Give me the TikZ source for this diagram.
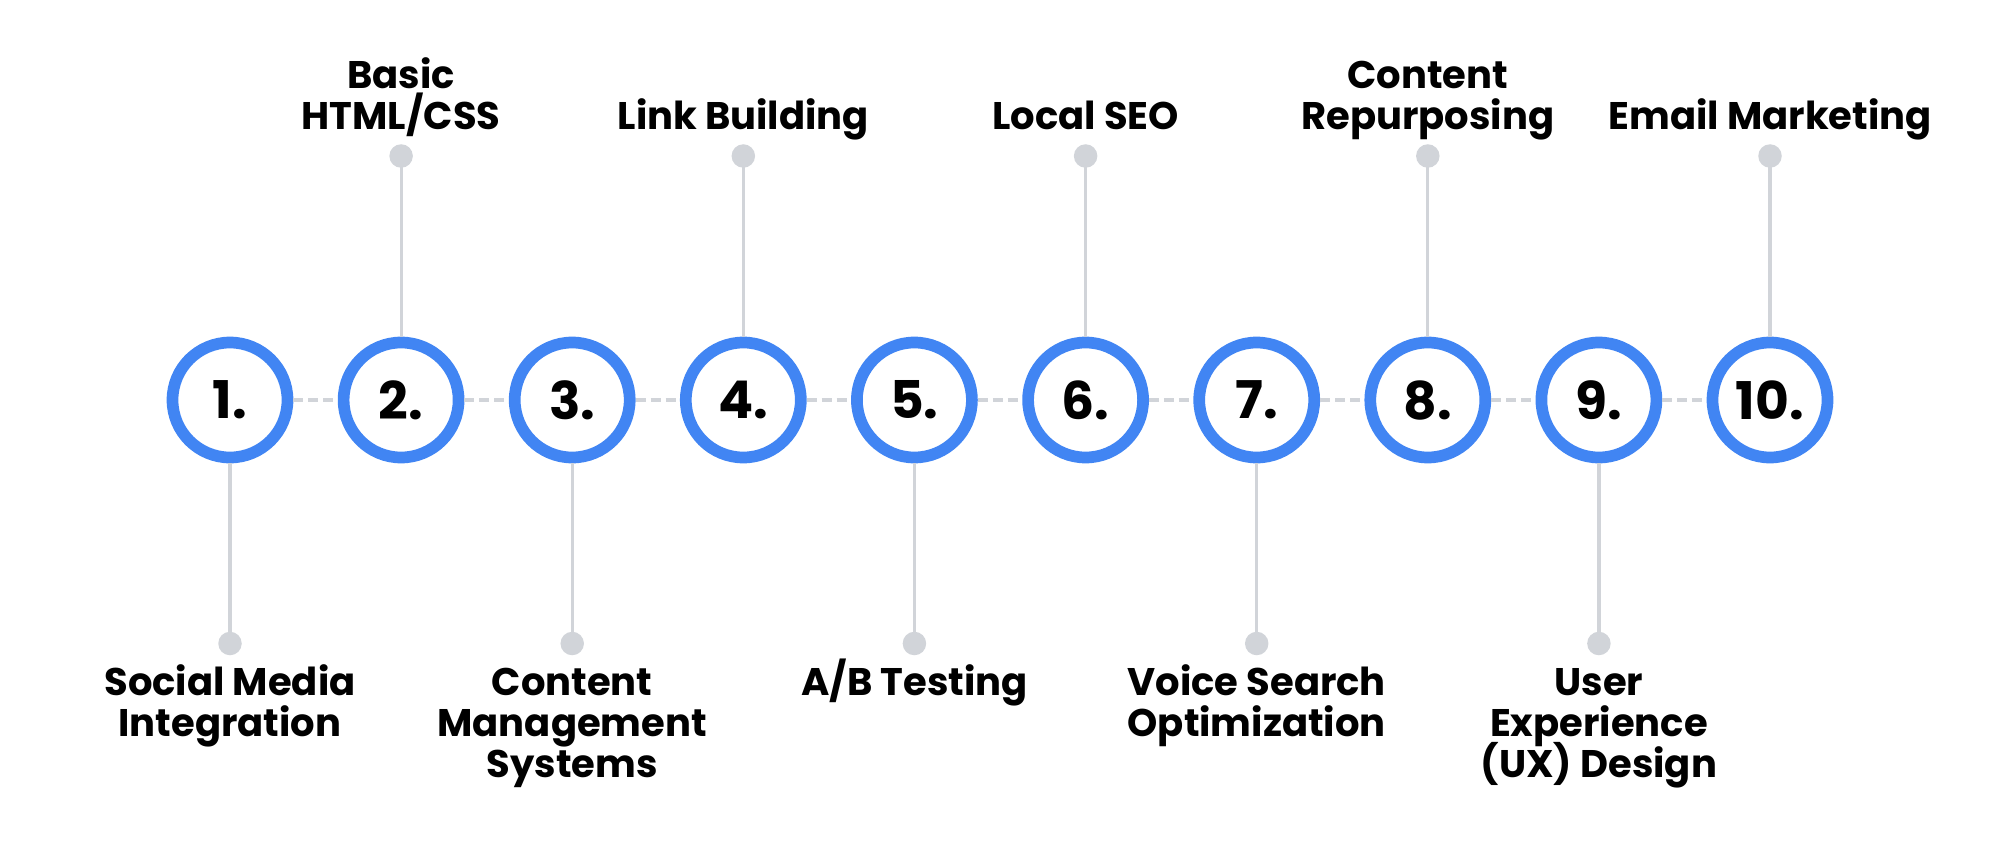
\documentclass[tikz,border=0pt]{standalone}
\usepackage{fontspec}
\setmainfont{Poppins}[BoldFont={* Bold}]
\definecolor{ringblue}{HTML}{4185F3}
\definecolor{lgrey}{HTML}{D1D4D9}
\newcommand\mylblfont{\fontsize{38.5}{41}\selectfont\bfseries\lineskiplimit=-100pt\relax\lineskip=0pt\relax}
\tikzset{
  stepcircle/.style={circle, draw=ringblue, line width=11.7pt, minimum size=115pt, inner sep=0pt, fill=white,
    font=\fontsize{52}{52}\selectfont\bfseries},
  dashlink/.style={draw=lgrey, line width=4pt, dash pattern=on 10pt off 5pt},
  stem/.style={draw=lgrey, line width=3.2pt},
  enddot/.style={circle, fill=lgrey, minimum size=23.5pt, inner sep=0pt},
  lbl/.style={align=center, inner sep=0pt, anchor=base, font=\mylblfont}
}
\begin{document}
\begin{tikzpicture}[x=1pt,y=-1pt]
\useasboundingbox (0,0) rectangle (2000,848);
% circles
\foreach \i/\x in {1/230,2/401.1,3/572.2,4/743.3,5/914.4,6/1085.6,7/1256.7,8/1427.8,9/1598.9,10/1770}{
  \node[stepcircle] (c\i) at (\x,400) {\i.};
}
% dashed links
\foreach \a/\b in {1/2,2/3,3/4,4/5,5/6,6/7,7/8,8/9,9/10}{
  \draw[dashlink] (c\a.east) -- (c\b.west);
}
% top dots (even)
\foreach \i/\x in {2/401.1,4/743.3,6/1085.6,8/1427.8,10/1770}{
  \node[enddot] (d\i) at (\x,156) {};
  \draw[stem] (d\i.center) -- (c\i.north);
}
% bottom dots (odd)
\foreach \i/\x in {1/230,3/572.2,5/914.4,7/1256.7,9/1598.9}{
  \node[enddot] (d\i) at (\x,643.5) {};
  \draw[stem] (c\i.south) -- (d\i.center);
}
% top labels (base = last line)
\node[lbl] (t2) at (401.1,130) {Basic\\HTML/CSS};
\node[lbl] (t4) at (743.3,130) {Link Building};
\node[lbl] (t6) at (1085.6,130) {Local SEO};
\node[lbl] (t8) at (1427.8,130) {Content\\Repurposing};
\node[lbl] (t10) at (1770,130) {Email Marketing};
% bottom labels (base = last line)
\node[lbl] (b1) at (230,736) {Social Media\\Integration};
\node[lbl] (b3) at (572.2,777) {Content\\Management\\Systems};
\node[lbl] (b5) at (914.4,695) {A/B Testing};
\node[lbl] (b7) at (1256.7,736) {Voice Search\\Optimization};
\node[lbl] (b9) at (1598.9,777) {User\\Experience\\(UX) Design};
\end{tikzpicture}
\end{document}
